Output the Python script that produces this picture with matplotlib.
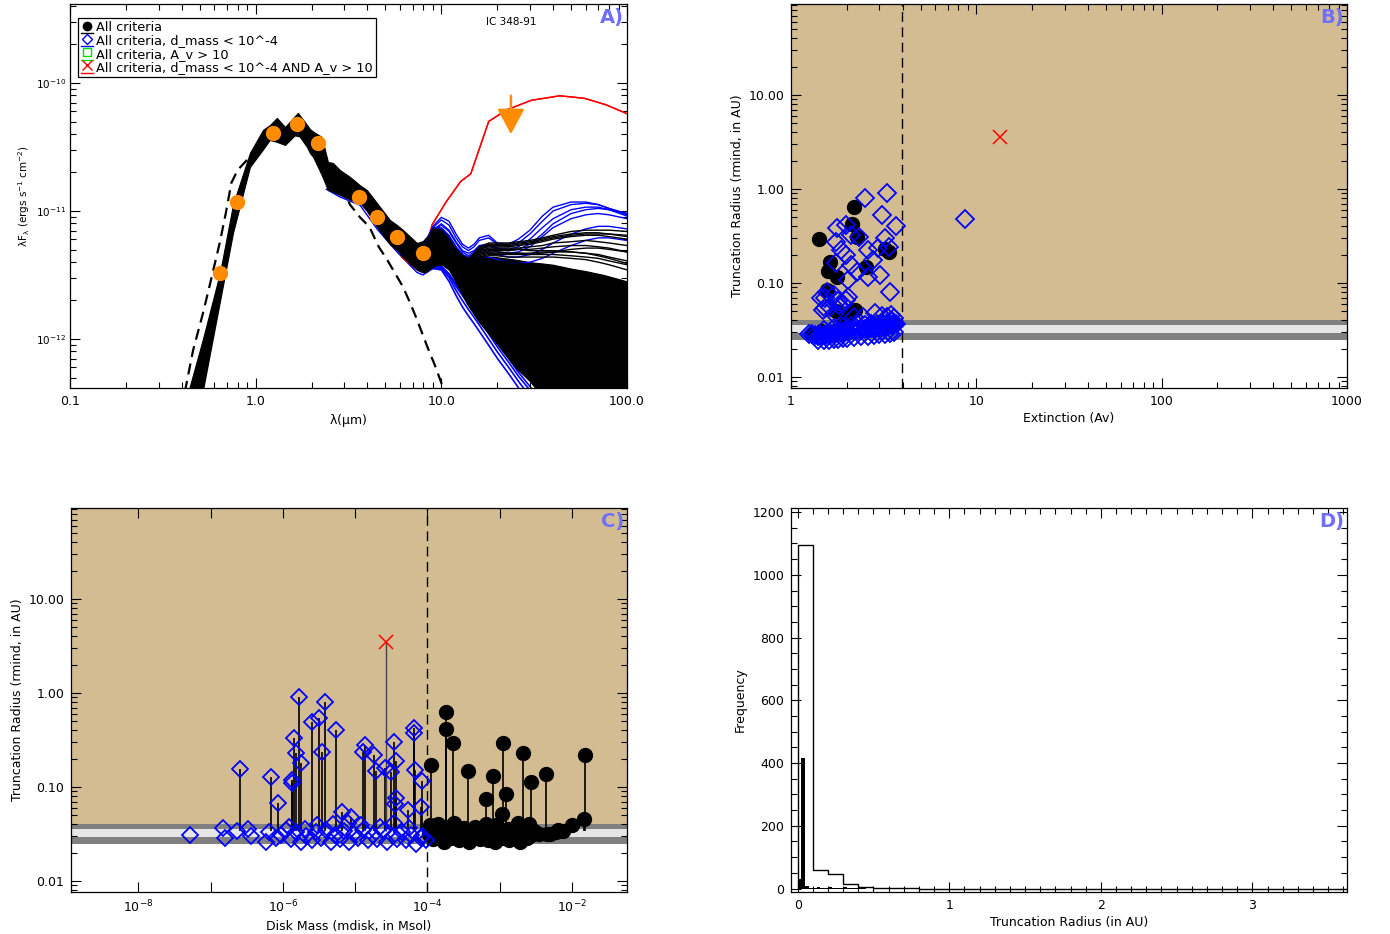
import numpy as np
import matplotlib
matplotlib.use('Agg')
import matplotlib.pyplot as plt
from matplotlib.ticker import (LogLocator, FixedLocator, FuncFormatter, NullFormatter,
                               MultipleLocator)
from matplotlib.lines import Line2D
from matplotlib.legend_handler import HandlerBase

plt.rcParams['font.family'] = 'DejaVu Sans'
plt.rcParams['mathtext.default'] = 'regular'
plt.rcParams['font.size'] = 9

# ---------------- Panel A data (SED) ----------------
obs_wl = [0.64, 0.79, 1.235, 1.662, 2.159, 3.6, 4.5, 5.8, 8.0]
obs_logflux = [-11.484, -10.93, -10.39, -10.32, -10.469, -10.89, -11.047, -11.203, -11.328]
limit_wl = 23.7
limit_log_top = -10.10
limit_log_tip = -10.40

env_wl = [0.44, 0.52, 0.643, 0.755, 0.931, 1.094, 1.19, 1.30, 1.44, 1.67, 1.69, 1.89, 1.96, 2.04,
          2.27, 2.45, 2.61, 2.84, 3.22, 3.65, 3.97, 4.5, 5.28, 5.77, 6.21, 7.39, 7.96, 8.36, 8.9,
          9.5, 10.1, 11, 12, 13.8, 16, 19.5, 25, 30, 35, 40, 50, 60, 75, 100]
env_upper = [-12.38, -12.0, -11.48, -10.95, -10.547, -10.367, -10.33, -10.273, -10.344, -10.24,
             -10.234, -10.328, -10.36, -10.38, -10.422, -10.617, -10.625, -10.68, -10.734, -10.80,
             -10.836, -10.938, -11.07, -11.11, -11.148, -11.25, -11.235, -11.2, -11.13, -11.12,
             -11.14, -11.2, -11.28, -11.38, -11.36, -11.36, -11.38, -11.4, -11.41, -11.42, -11.45,
             -11.47, -11.5, -11.55]
env_lower = [-12.6, -12.4, -11.70, -11.17, -10.656, -10.52, -10.445, -10.46, -10.484, -10.39,
             -10.40, -10.50, -10.547, -10.578, -10.72, -10.836, -10.85, -10.875, -10.91, -10.9375,
             -11.0, -11.125, -11.26, -11.305, -11.36, -11.46, -11.48, -11.47, -11.44, -11.42,
             -11.42, -11.46, -11.56, -11.73, -11.87, -12.02, -12.22, -12.33, -12.45, -12.6, -12.6,
             -12.6, -12.6, -12.6]

blue_edge_wl = [2.4, 2.84, 3.65, 4.5, 5.77, 7.39, 7.96, 8.36, 9.0]
blue_edge_log = [-10.83, -10.89, -10.955, -11.14, -11.32, -11.48, -11.50, -11.48, -11.45]

photo_wl = [0.40, 0.42, 0.46, 0.52, 0.57, 0.64, 0.69, 0.74, 0.80, 0.9, 1.0, 1.2, 1.5, 1.8, 2.2,
            2.6, 3.0, 3.22, 3.65, 4.1, 4.6, 5.1, 5.6, 6.2, 6.8, 7.4, 8.4, 9.2, 10.1, 10.6]
photo_log = [-12.55, -12.38, -12.09, -11.80, -11.56, -11.25, -11.02, -10.78, -10.68, -10.6, -10.5,
             -10.40, -10.40, -10.42, -10.5, -10.7, -10.85, -10.95, -11.05, -11.125, -11.28, -11.38,
             -11.48, -11.59, -11.72, -11.85, -12.06, -12.2, -12.36, -12.45]

long_wl = [8, 9, 10, 11, 12, 13, 14, 15, 16, 18, 20, 23, 26, 30, 35, 40, 50, 60, 70, 80, 100]
blue_high = [
    [-11.30, -11.12, -11.05, -11.08, -11.18, -11.26, -11.29, -11.26, -11.21, -11.19, -11.25, -11.26, -11.22, -11.15, -11.04, -10.97, -10.93, -10.93, -10.95, -10.98, -11.02],
    [-11.30, -11.13, -11.07, -11.11, -11.21, -11.28, -11.31, -11.28, -11.23, -11.21, -11.26, -11.28, -11.25, -11.18, -11.08, -11.0, -10.95, -10.94, -10.95, -10.98, -11.03],
    [-11.31, -11.15, -11.10, -11.15, -11.24, -11.31, -11.33, -11.31, -11.27, -11.26, -11.29, -11.30, -11.28, -11.22, -11.13, -11.06, -10.99, -10.97, -10.97, -10.99, -11.04],
    [-11.32, -11.17, -11.13, -11.19, -11.28, -11.34, -11.36, -11.34, -11.31, -11.30, -11.32, -11.33, -11.32, -11.28, -11.2, -11.13, -11.06, -11.03, -11.02, -11.03, -11.06],
    [-11.32, -11.16, -11.11, -11.16, -11.25, -11.32, -11.35, -11.32, -11.28, -11.27, -11.3, -11.31, -11.3, -11.26, -11.18, -11.1, -11.02, -10.99, -10.98, -10.99, -11.02],
    [-11.33, -11.18, -11.15, -11.21, -11.30, -11.36, -11.38, -11.36, -11.33, -11.32, -11.34, -11.36, -11.36, -11.34, -11.30, -11.25, -11.18, -11.14, -11.12, -11.12, -11.14],
    [-11.33, -11.19, -11.17, -11.23, -11.32, -11.38, -11.40, -11.38, -11.36, -11.36, -11.38, -11.40, -11.41, -11.40, -11.37, -11.33, -11.27, -11.23, -11.21, -11.21, -11.23],
]
black_high = [
    [-11.30, -11.14, -11.15, -11.22, -11.3, -11.35, -11.37, -11.33, -11.28, -11.25, -11.25, -11.25, -11.24, -11.23, -11.21, -11.19, -11.16, -11.15, -11.15, -11.15, -11.16],
    [-11.31, -11.16, -11.17, -11.24, -11.32, -11.37, -11.39, -11.35, -11.30, -11.28, -11.28, -11.28, -11.27, -11.26, -11.24, -11.22, -11.2, -11.19, -11.19, -11.2, -11.22],
    [-11.32, -11.18, -11.19, -11.26, -11.34, -11.39, -11.40, -11.37, -11.33, -11.31, -11.31, -11.31, -11.30, -11.30, -11.29, -11.28, -11.27, -11.27, -11.28, -11.29, -11.32],
    [-11.33, -11.2, -11.21, -11.28, -11.36, -11.41, -11.42, -11.4, -11.37, -11.35, -11.35, -11.36, -11.36, -11.36, -11.36, -11.36, -11.37, -11.38, -11.4, -11.42, -11.46],
    [-11.31, -11.15, -11.16, -11.23, -11.31, -11.36, -11.38, -11.34, -11.29, -11.26, -11.26, -11.26, -11.25, -11.24, -11.22, -11.2, -11.18, -11.17, -11.17, -11.18, -11.19],
    [-11.32, -11.17, -11.18, -11.25, -11.33, -11.38, -11.39, -11.36, -11.31, -11.29, -11.29, -11.29, -11.29, -11.28, -11.27, -11.25, -11.24, -11.23, -11.24, -11.25, -11.27],
    [-11.33, -11.21, -11.22, -11.3, -11.38, -11.42, -11.43, -11.41, -11.39, -11.38, -11.39, -11.4, -11.41, -11.42, -11.43, -11.44, -11.46, -11.48, -11.5, -11.52, -11.56],
    [-11.32, -11.19, -11.20, -11.27, -11.35, -11.40, -11.41, -11.38, -11.35, -11.33, -11.33, -11.33, -11.33, -11.33, -11.32, -11.32, -11.32, -11.33, -11.34, -11.36, -11.39],
    [-11.31, -11.16, -11.16, -11.23, -11.31, -11.36, -11.38, -11.35, -11.30, -11.27, -11.27, -11.27, -11.26, -11.25, -11.23, -11.21, -11.19, -11.18, -11.18, -11.18, -11.20],
    [-11.32, -11.18, -11.19, -11.26, -11.34, -11.38, -11.40, -11.37, -11.34, -11.32, -11.32, -11.33, -11.33, -11.34, -11.34, -11.34, -11.35, -11.36, -11.37, -11.39, -11.42],
    [-11.33, -11.20, -11.20, -11.27, -11.35, -11.40, -11.41, -11.39, -11.36, -11.34, -11.34, -11.34, -11.34, -11.34, -11.33, -11.32, -11.30, -11.29, -11.29, -11.30, -11.32],
    [-11.32, -11.17, -11.17, -11.24, -11.32, -11.37, -11.39, -11.36, -11.32, -11.30, -11.30, -11.30, -11.30, -11.31, -11.31, -11.31, -11.32, -11.33, -11.35, -11.37, -11.41],
]
drop_wl = [8, 9, 10, 11, 12, 13, 14, 15, 16, 18, 20, 23, 26, 30, 35]
blue_drop = [
    [-11.47, -11.45, -11.46, -11.55, -11.66, -11.75, -11.82, -11.88, -11.94, -12.05, -12.15, -12.27, -12.38, -12.55, -12.7],
    [-11.47, -11.44, -11.45, -11.52, -11.62, -11.70, -11.77, -11.83, -11.89, -12.0, -12.1, -12.22, -12.33, -12.45, -12.6],
    [-11.46, -11.43, -11.44, -11.50, -11.59, -11.66, -11.73, -11.79, -11.85, -11.96, -12.06, -12.18, -12.29, -12.40, -12.55],
    [-11.46, -11.43, -11.43, -11.49, -11.57, -11.64, -11.70, -11.76, -11.82, -11.93, -12.03, -12.15, -12.26, -12.37, -12.5],
]
red_wl = [6.1, 7.6, 8.9, 10.6, 12.7, 14.4, 18.0, 22.5, 30.6, 43.5, 59, 77, 100]
red_log = [-11.36, -11.47, -11.11, -10.93, -10.77, -10.71, -10.30, -10.21, -10.135, -10.10, -10.12, -10.17, -10.24]

# ---------------- Panel B data ----------------
band_edges = [0.0248, 0.0294, 0.0357, 0.0403]
av_cut = 3.95
avB_k = [2.2, 2.14, 1.42, 1.63, 1.59, 1.78, 2.53, 3.38, 3.2, 2.27, 1.56, 2.22, 1.3, 1.9, 2.6, 3.2, 3.5, 1.75, 2.0, 1.45]
rB_k = [0.638, 0.425, 0.294, 0.169, 0.135, 0.117, 0.149, 0.215, 0.23, 0.311, 0.0843, 0.0516, 0.029, 0.036, 0.034, 0.038, 0.037, 0.05, 0.045, 0.031]
avB_b = [3.28, 2.51, 3.1, 3.69, 1.78, 1.99, 2.12, 2.32, 1.74, 3.23, 2.96, 2.59, 3.38, 1.86, 1.99, 2.77,
         1.74, 2.12, 2.27, 3.03, 2.59, 2.03, 3.43, 1.70, 1.99, 1.52, 1.52, 1.82, 2.83, 3.45, 8.68,
         1.56, 1.46, 2.03, 1.49, 1.70, 1.9, 1.62, 1.80, 2.2, 2.45, 3.1, 3.3, 3.6]
rB_b = [0.914, 0.796, 0.528, 0.407, 0.382, 0.414, 0.324, 0.311, 0.275, 0.298, 0.234, 0.224, 0.244,
        0.224, 0.199, 0.176, 0.162, 0.155, 0.132, 0.122, 0.117, 0.108, 0.081, 0.0745, 0.066, 0.0687,
        0.0537, 0.058, 0.0476, 0.0457, 0.483,
        0.081, 0.069, 0.071, 0.051, 0.047, 0.06, 0.056, 0.064, 0.044, 0.043, 0.045, 0.044, 0.042]
avB_low = [1.25, 1.3, 1.35, 1.4, 1.45, 1.5, 1.55, 1.6, 1.65, 1.7, 1.75, 1.8, 1.85, 1.9, 1.95, 2.0,
           2.1, 2.2, 2.3, 2.4, 2.5, 2.6, 2.7, 2.8, 2.9, 3.0, 3.1, 3.2, 3.3, 3.4, 3.5, 3.6, 3.7,
           1.4, 1.5, 1.6, 1.7, 1.8, 1.9, 2.0, 2.2, 2.4, 2.6, 2.8, 3.0, 3.2, 3.4, 3.6,
           1.5, 1.7, 1.9, 2.1, 2.3, 2.5, 2.7, 2.9, 3.1, 3.3, 3.5]
rB_low = [0.0290, 0.0285, 0.028, 0.0275, 0.0278, 0.028, 0.0283, 0.0286, 0.029, 0.0292, 0.0295, 0.0298,
          0.030, 0.0303, 0.0306, 0.031, 0.0313, 0.0316, 0.032, 0.0323, 0.0326, 0.033, 0.0333, 0.0336,
          0.034, 0.0343, 0.0346, 0.035, 0.0353, 0.0356, 0.036, 0.0363, 0.037,
          0.0245, 0.0248, 0.025, 0.0253, 0.0256, 0.026, 0.0263, 0.0266, 0.027, 0.0275, 0.028, 0.0285,
          0.029, 0.0295, 0.030,
          0.032, 0.033, 0.034, 0.035, 0.0355, 0.036, 0.0365, 0.037, 0.0375, 0.038, 0.039]
red_av = [13.5]
red_rB = [3.55]

# ---------------- Panel C data ----------------
mass_cut = 1e-4
stem_base = 0.034
mC_b = [1.65e-6, 3.81e-6, 3.15e-6, 2.51e-6, 5.5e-6, 6.5e-5, 6.5e-5, 1.42e-6, 1.5e-6, 1.78e-6, 3.5e-6,
        1.37e-5, 1.3e-5, 1.82e-5, 3.48e-5, 3.72e-5, 2.56e-5, 1.93e-5, 3.15e-5, 6.7e-5, 8.3e-5,
        2.56e-7, 6.95e-7, 8.5e-7, 1.34e-6, 1.32e-6, 3.72e-5, 3.6e-5, 5.36e-5, 8.1e-5, 6.58e-6, 8.7e-6]
rC_b = [0.914, 0.809, 0.537, 0.488, 0.404, 0.421, 0.378, 0.33, 0.228, 0.179, 0.234, 0.28, 0.238,
        0.219, 0.298, 0.189, 0.158, 0.149, 0.146, 0.151, 0.116, 0.155, 0.129, 0.067, 0.119, 0.109,
        0.0759, 0.0655, 0.0569, 0.0616, 0.0537, 0.0483]
mC_lowb = [5.2e-8, 1.5e-7, 1.6e-7, 2.3e-7, 3.3e-7, 3.6e-7, 5.8e-7, 6.5e-7, 8.0e-7, 9.5e-7, 1.1e-6,
           1.3e-6, 1.5e-6, 1.8e-6, 2.1e-6, 2.5e-6, 2.9e-6, 3.4e-6, 4.0e-6, 4.6e-6, 5.3e-6, 6.1e-6,
           7.0e-6, 8.2e-6, 9.5e-6, 1.1e-5, 1.3e-5, 1.5e-5, 1.75e-5, 2.0e-5, 2.4e-5, 2.8e-5, 3.3e-5,
           3.8e-5, 4.4e-5, 5.1e-5, 6.0e-5, 7.0e-5, 8.2e-5, 9.5e-5, 1.2e-6, 2.0e-6, 3.0e-6, 5.0e-6,
           8.0e-6, 1.2e-5, 2.2e-5, 3.5e-5, 5.5e-5, 8.5e-5]
rC_lowb = [0.031, 0.037, 0.0285, 0.034, 0.036, 0.030, 0.026, 0.033, 0.029, 0.031, 0.035, 0.028, 0.033,
           0.026, 0.030, 0.027, 0.033, 0.029, 0.035, 0.026, 0.031, 0.028, 0.034, 0.026, 0.032, 0.029,
           0.035, 0.027, 0.031, 0.028, 0.034, 0.026, 0.030, 0.028, 0.033, 0.027, 0.031, 0.025, 0.029,
           0.027, 0.038, 0.036, 0.039, 0.040, 0.041, 0.039, 0.038, 0.041, 0.037, 0.030]
mC_k = [1.82e-4, 1.82e-4, 2.29e-4, 1.12e-4, 3.69e-4, 1.11e-3, 8.15e-4, 2.09e-3, 1.21e-3, 6.5e-4,
        1.06e-3, 2.69e-3, 4.42e-3, 0.0150, 0.0147, 9.9e-3, 6.3e-3, 4.47e-3]
rC_k = [0.633, 0.414, 0.296, 0.171, 0.148, 0.296, 0.132, 0.232, 0.0836, 0.0745, 0.0512, 0.114, 0.136,
        0.219, 0.0457, 0.0394, 0.0349, 0.0313]
mC_lowk = [1.05e-4, 1.2e-4, 1.35e-4, 1.5e-4, 1.7e-4, 1.9e-4, 2.1e-4, 2.4e-4, 2.7e-4, 3.0e-4, 3.4e-4,
           3.8e-4, 4.3e-4, 4.8e-4, 5.4e-4, 6.0e-4, 6.8e-4, 7.6e-4, 8.5e-4, 9.5e-4, 1.07e-3, 1.2e-3,
           1.35e-3, 1.5e-3, 1.7e-3, 1.9e-3, 2.1e-3, 2.4e-3, 2.7e-3, 3.0e-3, 3.5e-3, 1.1e-4, 1.4e-4,
           1.8e-4, 2.3e-4, 3.2e-4, 4.5e-4, 6.5e-4, 9.0e-4, 1.3e-3, 1.8e-3, 2.5e-3, 5.0e-3, 6.0e-3,
           7.5e-3]
rC_lowk = [0.032, 0.028, 0.035, 0.030, 0.026, 0.033, 0.029, 0.036, 0.027, 0.031, 0.034, 0.026, 0.030,
           0.033, 0.028, 0.035, 0.027, 0.031, 0.026, 0.034, 0.029, 0.032, 0.027, 0.035, 0.030, 0.026,
           0.033, 0.029, 0.031, 0.034, 0.032, 0.039, 0.040, 0.038, 0.041, 0.037, 0.038, 0.040, 0.039,
           0.036, 0.041, 0.040, 0.0315, 0.033, 0.034]
red_mass = [2.71e-5]
red_rC = [3.52]

# ---------------- Panel D data ----------------
hist_edges_open = [0.0, 0.1, 0.2, 0.3, 0.4, 0.5, 0.6, 0.7, 0.8, 0.9, 1.0]
hist_counts_open = [1095, 60, 45, 13, 6, 2, 1, 1, 0, 0]
hist_edges_fill = [0.0, 0.025, 0.05, 0.075, 0.1, 0.125, 0.15, 0.175, 0.2, 0.225, 0.25, 0.275, 0.3,
                   0.325, 0.35, 0.375, 0.4, 0.425, 0.45]
hist_counts_fill = [30, 415, 8, 3, 2, 6, 2, 2, 6, 2, 1, 1, 4, 2, 1, 1, 3, 1]

# ---------------- style ----------------
TAN = '#d3bc91'
DARKGRAY = '#808080'
LIGHTGRAY = '#e6e6e6'
LABELC = '#6e6eff'
ORANGE = '#ff8c00'

W, H = 1390, 934
fig = plt.figure(figsize=(W / 100, H / 100), dpi=100)


def axrect(l, t, r, b):
    return [l / W, 1 - b / H, (r - l) / W, (b - t) / H]


axA = fig.add_axes(axrect(70, 4, 627, 388))
axB = fig.add_axes(axrect(791, 4, 1347, 388))
axC = fig.add_axes(axrect(71, 508, 627, 892))
axD = fig.add_axes(axrect(791, 508, 1347, 892))


def idl(ax):
    ax.tick_params(which='both', direction='in', top=True, right=True, width=0.8,
                   labelsize=9, pad=5)
    ax.tick_params(which='major', length=7)
    ax.tick_params(which='minor', length=4)
    for s in ax.spines.values():
        s.set_linewidth(0.9)
        s.set_zorder(10)


def panel_label(ax, s):
    ax.text(0.995, 0.99, s, transform=ax.transAxes, ha='right', va='top', fontsize=14,
            fontweight='bold', color=LABELC, zorder=20)


class MarkerOverLine(HandlerBase):
    def create_artists(self, legend, orig_handle, xdescent, ydescent, width, height, fontsize,
                       trans):
        x0, y0 = -xdescent, -ydescent
        ln = Line2D([x0, x0 + width], [y0 - 1.5, y0 - 1.5], color=orig_handle.get_color(),
                    lw=1.0, transform=trans)
        mk = Line2D([x0 + width / 2], [y0 + height * 0.6], ls='none',
                    marker=orig_handle.get_marker(), ms=orig_handle.get_markersize(),
                    mfc=orig_handle.get_markerfacecolor(), mec=orig_handle.get_color(),
                    mew=1.0, transform=trans)
        return [ln, mk]


# ---------------- Panel A ----------------
ax = axA
ax.set_xscale('log')
ax.set_yscale('log')
ax.set_xlim(0.1, 100)
ax.set_ylim(10 ** -12.383, 10 ** -9.383)
for c in blue_drop:
    ax.plot(drop_wl, 10 ** np.array(c), color='blue', lw=1.2, zorder=1.5)
ax.plot(blue_edge_wl, 10 ** np.array(blue_edge_log), color='blue', lw=1.0, zorder=1.6)
ax.plot(red_wl, 10 ** np.array(red_log), color='red', lw=1.0, zorder=1.7)
ax.fill_between(env_wl, 10 ** np.array(env_upper), 10 ** np.array(env_lower), color='k', lw=0.8,
                edgecolor='k', zorder=2)
for c in blue_high:
    ax.plot(long_wl, 10 ** np.array(c), color='blue', lw=1.0, zorder=2.5)
for c in black_high:
    ax.plot(long_wl, 10 ** np.array(c), color='k', lw=1.0, zorder=2.6)
ax.plot(red_wl[2:], 10 ** np.array(red_log[2:]), color='red', lw=1.0, zorder=2.7)
ax.plot(photo_wl, 10 ** np.array(photo_log), color='k', lw=1.6, ls=(0, (5, 3)), zorder=1.8)
ax.plot(obs_wl, 10 ** np.array(obs_logflux), 'o', color=ORANGE, ms=10, mec=ORANGE, zorder=5)
ax.annotate('', xy=(limit_wl, 10 ** limit_log_tip), xytext=(limit_wl, 10 ** limit_log_top),
            arrowprops=dict(arrowstyle='-|>,head_length=1.3,head_width=0.7', color=ORANGE,
                            lw=1.8, mutation_scale=12, shrinkA=0, shrinkB=0), zorder=6)
ax.xaxis.set_major_locator(FixedLocator([0.1, 1, 10, 100]))
ax.xaxis.set_major_formatter(FuncFormatter(lambda v, p: '%.1f' % v))
ax.xaxis.set_minor_locator(LogLocator(base=10, subs=np.arange(2, 10), numticks=20))
ax.xaxis.set_minor_formatter(NullFormatter())
ax.yaxis.set_major_locator(FixedLocator([1e-12, 1e-11, 1e-10]))
ax.yaxis.set_major_formatter(FuncFormatter(lambda v, p: r'$10^{%d}$' % round(np.log10(v))))
ax.yaxis.set_minor_locator(LogLocator(base=10, subs=np.arange(2, 10), numticks=20))
ax.yaxis.set_minor_formatter(NullFormatter())
idl(ax)
ax.tick_params(axis='y', which='major', labelsize=7.5, pad=3)
ax.set_xlabel(r'λ($\mu$m)', fontsize=9, labelpad=3)
ax.set_ylabel(r'λF$_{λ}$ (ergs s$^{-1}$ cm$^{-2}$)', fontsize=7.5)
ax.yaxis.set_label_coords(-0.068, 0.5)
handles = [
    Line2D([], [], color='k', marker='o', mfc='k', ms=6, lw=1),
    Line2D([], [], color='blue', marker='D', mfc='none', ms=5, lw=1),
    Line2D([], [], color='#00dd00', marker='s', mfc='none', ms=6, lw=1),
    Line2D([], [], color='red', marker='x', mfc='red', ms=7, lw=1),
]
labels = ['All criteria', 'All criteria, d_mass < 10^-4', 'All criteria, A_v > 10',
          'All criteria, d_mass < 10^-4 AND A_v > 10']
leg = ax.legend(handles, labels, loc='upper left', bbox_to_anchor=(0.014, 0.964), borderaxespad=0,
                fontsize=9.3, handlelength=0.9, handletextpad=0.25, labelspacing=0.02,
                borderpad=0.25, fancybox=False, edgecolor='k', framealpha=1,
                handler_map={Line2D: MarkerOverLine()})
leg.get_frame().set_linewidth(0.9)
leg.set_zorder(12)
ax.text(limit_wl, 10 ** -9.525, 'IC 348-91', ha='center', va='center', fontsize=7.5, zorder=12)
panel_label(ax, 'A)')

# ---------------- Panel B ----------------
ax = axB
ax.set_xscale('log')
ax.set_yscale('log')
ax.set_xlim(1, 1000)
ax.set_ylim(10 ** -2.117, 10 ** 1.968)
ax.axhspan(band_edges[3], 1000, color=TAN, lw=0, zorder=0)
ax.axhspan(band_edges[2], band_edges[3], color=DARKGRAY, lw=0, zorder=0)
ax.axhspan(band_edges[1], band_edges[2], color=LIGHTGRAY, lw=0, zorder=0)
ax.axhspan(band_edges[0], band_edges[1], color=DARKGRAY, lw=0, zorder=0)
ax.axvline(av_cut, color='k', lw=1.0, ls=(0, (7, 4)), zorder=1)
ax.plot(avB_k, rB_k, 'o', color='k', ms=10, zorder=2)
ax.plot(avB_low, rB_low, 'D', mfc='none', mec='blue', mew=1.3, ms=9, zorder=3)
ax.plot(avB_b, rB_b, 'D', mfc='none', mec='blue', mew=1.3, ms=9, zorder=3)
ax.plot(red_av, red_rB, 'x', color='red', ms=10, mew=1.1, zorder=4)
ax.xaxis.set_major_locator(FixedLocator([1, 10, 100, 1000]))
ax.xaxis.set_major_formatter(FuncFormatter(lambda v, p: '%d' % round(v)))
ax.xaxis.set_minor_locator(LogLocator(base=10, subs=np.arange(2, 10), numticks=20))
ax.xaxis.set_minor_formatter(NullFormatter())
ax.yaxis.set_major_locator(FixedLocator([0.01, 0.1, 1, 10]))
ax.yaxis.set_major_formatter(FuncFormatter(lambda v, p: '%.2f' % v))
ax.yaxis.set_minor_locator(LogLocator(base=10, subs=np.arange(2, 10), numticks=20))
ax.yaxis.set_minor_formatter(NullFormatter())
idl(ax)
ax.set_xlabel('Extinction (Av)', fontsize=9, labelpad=3)
ax.set_ylabel('Truncation Radius (rmind, in AU)', fontsize=9, labelpad=3)
panel_label(ax, 'B)')

# ---------------- Panel C ----------------
ax = axC
ax.set_xscale('log')
ax.set_yscale('log')
ax.set_xlim(10 ** -8.93, 10 ** -1.24)
ax.set_ylim(10 ** -2.117, 10 ** 1.968)
ax.axhspan(band_edges[3], 1000, color=TAN, lw=0, zorder=0)
ax.axhspan(band_edges[2], band_edges[3], color=DARKGRAY, lw=0, zorder=0)
ax.axhspan(band_edges[1], band_edges[2], color=LIGHTGRAY, lw=0, zorder=0)
ax.axhspan(band_edges[0], band_edges[1], color=DARKGRAY, lw=0, zorder=0)
ax.axvline(mass_cut, color='k', lw=1.0, ls=(0, (7, 4)), zorder=1)
ax.vlines(mC_b, stem_base, rC_b, color='k', lw=1.2, zorder=1.5)
ax.vlines(mC_k, stem_base, rC_k, color='k', lw=1.2, zorder=1.5)
ax.vlines(red_mass, stem_base, red_rC, color='#444444', lw=1.0, zorder=1.5)
ax.plot(mC_lowk, rC_lowk, 'o', color='k', ms=10, zorder=2)
ax.plot(mC_k, rC_k, 'o', color='k', ms=10, zorder=2)
ax.plot(mC_lowb, rC_lowb, 'D', mfc='none', mec='blue', mew=1.3, ms=8.5, zorder=3)
ax.plot(mC_b, rC_b, 'D', mfc='none', mec='blue', mew=1.3, ms=8.5, zorder=3)
ax.plot(red_mass, red_rC, 'x', color='red', ms=10, mew=1.1, zorder=4)
ax.xaxis.set_major_locator(FixedLocator([1e-8, 1e-6, 1e-4, 1e-2]))
ax.xaxis.set_major_formatter(FuncFormatter(lambda v, p: r'$10^{%d}$' % round(np.log10(v))))
ax.xaxis.set_minor_locator(FixedLocator([1e-9, 1e-7, 1e-5, 1e-3]))
ax.xaxis.set_minor_formatter(NullFormatter())
ax.yaxis.set_major_locator(FixedLocator([0.01, 0.1, 1, 10]))
ax.yaxis.set_major_formatter(FuncFormatter(lambda v, p: '%.2f' % v))
ax.yaxis.set_minor_locator(LogLocator(base=10, subs=np.arange(2, 10), numticks=20))
ax.yaxis.set_minor_formatter(NullFormatter())
idl(ax)
ax.tick_params(axis='x', which='minor', length=7)
ax.set_xlabel('Disk Mass (mdisk, in Msol)', fontsize=9, labelpad=3)
ax.set_ylabel('Truncation Radius (rmind, in AU)', fontsize=9, labelpad=3)
panel_label(ax, 'C)')

# ---------------- Panel D ----------------
ax = axD
ax.set_xlim(-0.044, 3.624)
ax.set_ylim(-11, 1213)
ax.stairs(hist_counts_open, hist_edges_open, color='k', lw=1.0, baseline=0, fill=False, zorder=2)
ax.stairs(hist_counts_fill, hist_edges_fill, color='k', lw=0.5, baseline=0, fill=True, zorder=3)
ax.plot([1.0, 3.624], [0, 0], color='k', lw=1.0, zorder=2)
ax.xaxis.set_major_locator(MultipleLocator(1))
ax.xaxis.set_minor_locator(MultipleLocator(0.1))
ax.yaxis.set_major_locator(MultipleLocator(200))
ax.yaxis.set_minor_locator(MultipleLocator(50))
idl(ax)
ax.set_xlabel('Truncation Radius (in AU)', fontsize=9, labelpad=3)
ax.set_ylabel('Frequency', fontsize=9, labelpad=4)
panel_label(ax, 'D)')

fig.savefig('out.png', dpi=100)
